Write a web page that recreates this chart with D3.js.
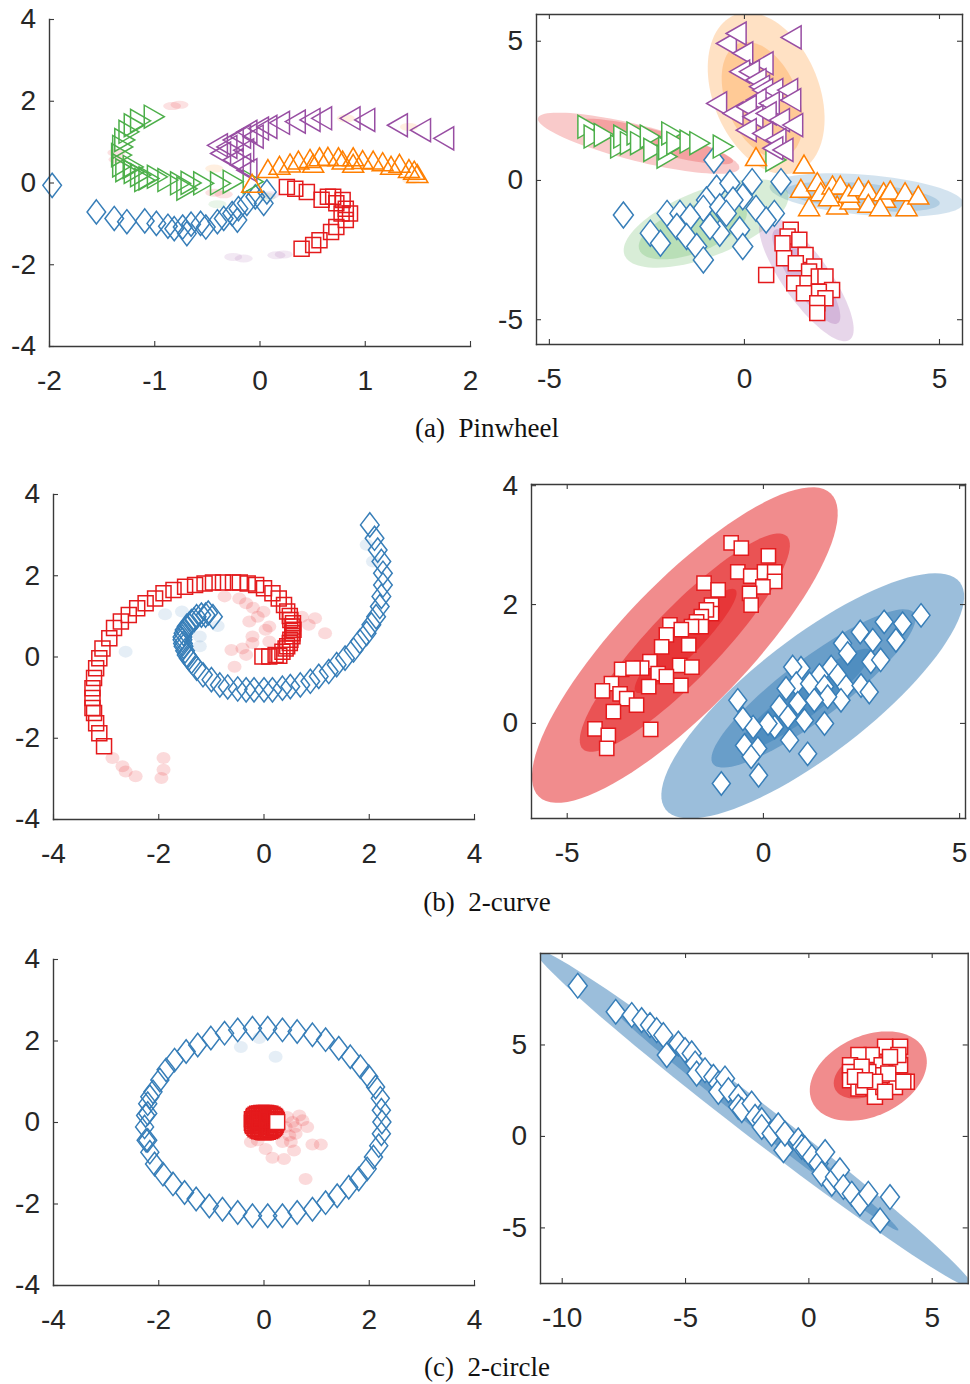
<!DOCTYPE html>
<html>
<head>
<meta charset="utf-8">
<script src="https://cdn.jsdelivr.net/npm/d3@7"></script>
<style>
  html, body { margin: 0; padding: 0; background: #fff; }
  svg { display: block; }
</style>
</head>
<body>
<script>
// ---------------- data ----------------
// (a) Pinwheel, input space
const aLeftBlue   = [[-1.97,-0.07],[-1.55,-0.72],[-1.38,-0.88],[-1.26,-0.96],[-1.09,-0.94],[-0.98,-1.0],[-0.87,-1.07],[-0.81,-1.13],[-0.73,-1.09],[-0.69,-1.25],[-0.65,-1.02],[-0.56,-1.0],[-0.51,-1.09],[-0.40,-0.96],[-0.34,-0.88],[-0.26,-0.76],[-0.21,-0.92],[-0.2,-0.64],[-0.12,-0.51],[-0.04,-0.35],[0.04,-0.51],[0.07,-0.23]];
const aLeftGreen  = [[-1.0,1.61],[-1.13,1.51],[-1.19,1.40],[-1.24,1.24],[-1.28,1.04],[-1.30,0.87],[-1.31,0.67],[-1.30,0.42],[-1.27,0.30],[-1.20,0.38],[-1.19,0.26],[-1.13,0.18],[-1.09,0.06],[-1.05,0.10],[-0.97,0.14],[-0.87,0.06],[-0.75,-0.02],[-0.69,-0.15],[-0.65,-0.01],[-0.53,-0.02],[-0.37,-0.02],[-0.25,0.02],[-0.06,0.02]];
const aLeftPurple = [[1.75,1.08],[1.53,1.28],[1.31,1.40],[1.0,1.53],[0.86,1.57],[0.59,1.57],[0.48,1.53],[0.34,1.49],[0.19,1.46],[0.07,1.36],[-0.01,1.32],[-0.06,1.12],[-0.12,1.24],[-0.18,1.12],[-0.25,1.04],[-0.31,0.87],[-0.40,0.91],[-0.15,0.79],[-0.37,0.71],[-0.25,0.55],[-0.18,0.42],[-0.12,0.30]];
const aLeftOrange = [[-0.07,-0.02],[0.08,0.34],[0.19,0.42],[0.29,0.48],[0.37,0.55],[0.48,0.59],[0.51,0.47],[0.57,0.63],[0.65,0.64],[0.75,0.63],[0.79,0.55],[0.89,0.63],[0.89,0.47],[0.98,0.56],[1.08,0.55],[1.17,0.51],[1.25,0.42],[1.33,0.47],[1.42,0.34],[1.47,0.30],[1.50,0.22]];
const aLeftRed    = [[0.26,-0.11],[0.34,-0.15],[0.45,-0.23],[0.59,-0.42],[0.65,-0.35],[0.70,-0.35],[0.73,-0.51],[0.79,-0.43],[0.82,-0.64],[0.78,-0.76],[0.86,-0.76],[0.82,-0.92],[0.73,-1.09],[0.68,-1.21],[0.57,-1.41],[0.51,-1.53],[0.40,-1.62]];
const aLeftFaintRed    = [[-0.83,1.87],[-0.76,1.90],[-1.36,0.73],[-1.35,0.56],[-0.43,-0.25],[-0.34,-0.29]];
const aLeftFaintOrange = [[0.82,1.57],[1.42,1.36],[-0.43,0.34],[1.44,0.06]];
const aLeftFaintPurple = [[-0.25,-1.82],[-0.15,-1.86],[0.16,-1.78],[0.23,-1.76],[0.10,-0.31]];
const aLeftFaintGreen  = [[-0.40,-0.53],[0.07,-0.35]];

// (a) Pinwheel, latent space
const aRightPurple = [[1.21,5.12],[-0.45,4.9],[-0.2,5.26],[-0.03,4.55],[0.49,4.19],[-0.11,3.89],[0.14,3.89],[0.31,3.59],[0.4,3.35],[0.48,3.23],[0.74,3.23],[1.12,3.23],[1.2,2.87],[-0.7,2.75],[0.31,2.87],[0.65,2.75],[-0.28,2.39],[0.06,2.63],[0.23,2.27],[0.57,2.39],[0.91,2.15],[1.25,1.97],[0.06,1.79],[0.48,1.67],[0.82,1.44],[0.74,1.14],[1.0,1.08]];
const aRightGreen  = [[-4.0,1.91],[-3.84,1.56],[-3.58,1.61],[-3.16,1.2],[-3.08,1.56],[-2.91,1.32],[-2.74,1.67],[-2.65,1.32],[-2.4,1.56],[-2.31,1.08],[-1.97,0.84],[-1.93,1.14],[-1.85,1.67],[-1.72,1.32],[-1.38,1.38],[-1.13,1.32],[-0.53,1.2],[0.82,0.72]];
const aRightOrange = [[0.31,0.84],[1.54,0.57],[1.46,-0.3],[1.88,-0.06],[1.97,-0.42],[2.27,-0.18],[2.47,-0.18],[2.39,-0.9],[2.18,-0.6],[2.73,-0.72],[2.69,-0.48],[2.94,-0.24],[3.19,-0.36],[3.19,-0.84],[3.58,-0.42],[3.62,-0.66],[3.49,-0.96],[3.75,-0.36],[4.17,-0.96],[4.13,-0.42],[4.47,-0.54],[1.67,-0.96]];
const aRightBlue   = [[-3.09,-1.26],[-0.77,0.72],[0.21,-0.06],[0.95,-0.06],[-0.7,-0.3],[-0.36,-0.12],[-0.03,-0.6],[-0.28,-0.72],[-0.96,-0.72],[-1.04,-1.02],[-0.62,-0.96],[-0.45,-1.2],[0.31,-1.02],[0.78,-1.2],[0.57,-1.44],[-1.97,-1.2],[-1.64,-1.2],[-1.38,-1.32],[-1.72,-1.67],[-2.4,-1.91],[-2.14,-2.27],[-1.47,-2.03],[-1.21,-2.39],[-1.04,-2.87],[-0.62,-1.91],[-0.87,-1.67],[-0.11,-1.79],[-0.03,-2.39]];
const aRightRed    = [[0.57,-3.41],[1.2,-1.79],[1.12,-2.03],[0.99,-2.27],[1.42,-2.15],[1.03,-2.81],[1.58,-2.69],[1.33,-2.99],[1.8,-3.11],[1.29,-3.71],[1.67,-3.29],[1.63,-3.71],[1.92,-3.47],[2.09,-3.47],[2.26,-3.95],[1.92,-4.01],[1.54,-4.07],[2.09,-4.25],[1.88,-4.43],[1.88,-4.78]];
// mixture components: [cx, cy, ux, uy, vx, vy] (centre and two conjugate semi-axes)
const aRightRedComp    = [[-2.70,1.32,2.58,-0.90,-0.11,-0.63],[-2.25,1.38,1.97,-0.72,-0.07,-0.39]];
const aRightOrangeComp = [[0.57,3.11,0.81,-2.81,1.26,0.72],[0.47,2.87,0.6,-2.03,0.85,0.48]];
const aRightBlueComp   = [[3.14,-0.54,2.48,-0.30,-0.04,-0.72],[3.05,-0.6,1.97,-0.24,-0.03,-0.48]];
const aRightGreenComp  = [[-0.97,-1.56,2.09,1.14,0.31,-1.11],[-1.31,-1.79,1.37,0.72,0.21,-0.78]];
const aRightPurpleComp = [[1.6,-3.53,1.11,-2.21,0.49,0.48],[1.6,-3.47,0.81,-1.67,0.32,0.32]];

// (b) 2-curve, input space
const bLeftRed  = [[-0.02,0],[0.11,0],[0.23,0.04],[0.3,0.02],[0.36,0.12],[0.42,0.2],[0.45,0.25],[0.5,0.33],[0.51,0.41],[0.55,0.5],[0.55,0.57],[0.57,0.66],[0.55,0.74],[0.56,0.82],[0.51,0.9],[0.5,1.0],[0.45,1.11],[0.39,1.27],[0.29,1.43],[0.17,1.56],[0.01,1.68],[-0.14,1.76],[-0.3,1.8],[-0.45,1.82],[-0.58,1.82],[-0.77,1.82],[-0.96,1.82],[-1.12,1.8],[-1.3,1.76],[-1.49,1.72],[-1.71,1.64],[-1.9,1.56],[-2.06,1.43],[-2.24,1.31],[-2.4,1.19],[-2.56,1.02],[-2.71,0.86],[-2.84,0.7],[-2.93,0.45],[-3.06,0.2],[-3.12,-0.04],[-3.18,-0.29],[-3.22,-0.53],[-3.25,-0.78],[-3.25,-1.02],[-3.25,-1.27],[-3.22,-1.39],[-3.18,-1.64],[-3.12,-1.89],[-3.03,-2.21]];
const bLeftBlue = [[-0.96,0.98],[-1.05,1.07],[-1.1,1.02],[-1.18,1.02],[-1.27,0.98],[-1.32,0.9],[-1.37,0.86],[-1.42,0.78],[-1.46,0.74],[-1.5,0.65],[-1.52,0.57],[-1.54,0.48],[-1.54,0.41],[-1.53,0.32],[-1.52,0.25],[-1.49,0.14],[-1.46,0.04],[-1.42,-0.04],[-1.37,-0.12],[-1.27,-0.29],[-1.15,-0.45],[-0.99,-0.57],[-0.83,-0.7],[-0.68,-0.75],[-0.49,-0.8],[-0.33,-0.82],[-0.18,-0.82],[0.01,-0.82],[0.17,-0.82],[0.36,-0.78],[0.51,-0.74],[0.7,-0.7],[0.89,-0.61],[1.05,-0.49],[1.24,-0.37],[1.39,-0.2],[1.55,-0.04],[1.71,0.16],[1.83,0.37],[1.96,0.57],[2.05,0.78],[2.14,0.98],[2.21,1.23],[2.24,1.48],[2.27,1.76],[2.27,2.05],[2.24,2.34],[2.17,2.62],[2.11,2.91],[2.02,3.24]];
const bLeftFaintRed  = [[-1.9,-2.5],[-1.9,-2.79],[-1.94,-2.99],[-2.68,-2.7],[-2.62,-2.83],[-2.43,-2.95],[-2.87,-2.5],[-0.74,1.48],[-0.46,1.43],[-0.33,1.31],[-0.27,0.86],[-0.11,0.98],[0.11,0.74],[0.04,0.66],[-0.21,0.49],[-0.21,0.33],[0.11,0.37],[-0.61,0.16],[-0.33,0.04],[-0.55,-0.25],[0.86,0.78],[0.98,0.94],[1.17,0.57],[0.73,0.98],[-0.2,1.2],[0.0,1.1],[-0.4,0.2]];
const bLeftFaintBlue = [[-1.87,1.04],[-1.55,1.11],[-2.62,0.12],[-1.21,0.49],[-1.21,0.25],[-0.87,0.75],[1.96,2.75],[2.08,2.34]];

// (b) 2-curve, latent space
const bRightRed  = [[-0.81,3.03],[-0.55,2.94],[0.14,2.81],[-0.64,2.54],[-0.31,2.47],[0.04,2.54],[0.3,2.54],[0.3,2.38],[0,2.29],[-0.34,2.18],[-0.3,1.98],[-1.5,2.35],[-1.14,2.24],[-1.31,1.98],[-1.31,1.84],[-1.44,1.9],[-1.57,1.79],[-1.69,1.7],[-1.57,1.62],[-1.82,1.62],[-2.37,1.65],[-2.08,1.57],[-2.46,1.48],[-2.58,1.28],[-1.89,1.31],[-2.88,1.03],[-3.09,0.92],[-3.6,0.9],[-3.31,0.92],[-2.67,0.83],[-2.12,0.97],[-1.81,0.94],[-2.46,0.78],[-2.91,0.61],[-2.09,0.63],[-3.86,0.66],[-4.09,0.54],[-3.64,0.49],[-3.47,0.41],[-3.22,0.30],[-3.81,0.19],[-4.28,-0.1],[-3.94,-0.21],[-3.98,-0.43],[-2.86,-0.11]];
const bRightBlue = [[4.03,1.81],[3.56,1.67],[3.09,1.7],[2.48,1.53],[2.8,1.39],[3.39,1.39],[2.03,1.34],[2.16,1.17],[2.75,1.03],[3.0,1.06],[1.74,0.94],[1.91,0.8],[1.44,0.8],[0.97,0.92],[0.76,0.94],[0.85,0.66],[1.19,0.66],[1.57,0.61],[2.12,0.61],[2.5,0.63],[2.71,0.52],[1.99,0.38],[1.65,0.44],[1.31,0.38],[0.89,0.33],[0.59,0.58],[0.42,0.27],[0.64,0.1],[0.3,-0.07],[0.68,-0.29],[1.57,-0.01],[1.14,-0.52],[0.13,-0.01],[-0.25,-0.07],[-0.51,0.07],[-0.64,0.38],[-0.47,-0.38],[-0.13,-0.43],[-0.3,-0.57],[-0.11,-0.88],[-1.06,-1.02],[1.06,0.04]];
const bRightRedComp  = [[-1.99,1.31,3.72,2.55,1.16,-0.74],[-1.99,1.35,2.6,1.79,0.64,-0.41],[-1.97,1.38,1.27,0.86,0.27,-0.17]];
const bRightBlueComp = [[1.27,0.455,3.75,1.91,0.91,-0.78],[1.29,0.58,2.56,1.27,0.46,-0.4],[1.06,0.38,1.69,0.84,0.25,-0.22]];

// (c) 2-circle, input space
const cLeftBlue = [[-0.21,2.30],[0.08,2.30],[0.36,2.26],[0.64,2.22],[0.93,2.14],[1.18,2.02],[1.43,1.81],[1.65,1.60],[1.84,1.36],[2.00,1.11],[2.13,0.86],[2.22,0.58],[2.24,0.29],[2.25,0.00],[2.24,-0.29],[2.19,-0.58],[2.09,-0.86],[1.97,-1.15],[1.81,-1.40],[1.62,-1.60],[1.40,-1.81],[1.18,-1.98],[0.93,-2.14],[0.64,-2.22],[0.36,-2.30],[0.08,-2.30],[-0.21,-2.30],[-0.49,-2.22],[-0.78,-2.14],[-1.03,-2.06],[-1.28,-1.89],[-1.50,-1.73],[-1.72,-1.52],[-1.91,-1.28],[-2.07,-1.03],[-2.16,-0.74],[-2.20,-0.45],[-2.23,-0.45],[-2.26,-0.12],[-2.24,0.16],[-2.20,0.21],[-2.20,0.45],[-2.16,0.62],[-2.10,0.74],[-1.97,1.03],[-1.85,1.28],[-1.69,1.52],[-1.47,1.73],[-1.25,1.89],[-1.00,2.06],[-0.74,2.18],[-0.49,2.26]];
const cLeftRed = [[0.25,0.0],[0.24,0.08],[0.2,0.15],[0.13,0.2],[0.05,0.22],[-0.04,0.22],[-0.12,0.2],[-0.18,0.15],[-0.22,0.07],[-0.22,-0.02],[-0.2,-0.1],[-0.15,-0.18],[-0.08,-0.23],[0.0,-0.25],[0.08,-0.24],[0.15,-0.2],[0.2,-0.14],[0.23,-0.07],[0.15,0.05],[0.1,-0.05],[0.0,0.1],[-0.1,0.0],[0.05,-0.12],[-0.05,-0.1],[0.12,0.12],[-0.1,0.1],[-0.16,0.04],[-0.13,-0.06],[0.18,0.0],[0.02,0.0],[-0.02,0.16],[0.08,0.15],[-0.06,-0.18],[0.1,-0.18],[-0.19,0.11],[-0.21,-0.06],[-0.17,-0.14],[-0.11,-0.21],[-0.03,-0.24],[0.04,-0.25],[0.12,-0.22],[0.18,-0.17],[0.22,-0.11],[0.24,-0.03],[0.25,0.04],[0.22,0.12],[0.17,0.18],[0.09,0.21],[0.01,0.22],[-0.08,0.21],[-0.15,0.18],[-0.21,0.03],[-0.07,0.05],[0.07,0.06]];
const cLeftRedLast   = [[0.26,0.0]];
const cLeftFaintRed  = [[0.68,0.16],[0.74,0.04],[0.83,-0.12],[0.55,0.0],[0.49,-0.33],[0.61,-0.29],[0.52,-0.49],[0.58,-0.70],[0.39,-0.91],[0.17,-0.88],[0.04,-0.66],[0.93,-0.55],[1.09,-0.55],[0.80,-1.40],[-0.24,-0.49],[-0.11,-0.45],[0.36,-0.49],[0.42,-0.12],[0.45,0.12],[0.6,-0.12]];
const cLeftFaintBlue = [[-0.43,1.84],[0.23,1.6],[-0.08,2.06]];

// (c) 2-circle, latent space
const cRightBlue = [[-9.35,8.21],[-7.81,6.79],[-7.16,6.61],[-6.76,6.33],[-6.42,6.06],[-6.15,5.78],[-5.88,5.51],[-5.74,4.42],[-5.27,5.05],[-5.0,4.69],[-4.73,4.51],[-4.59,3.96],[-4.53,3.41],[-4.19,3.59],[-3.85,3.23],[-3.65,2.86],[-3.65,2.41],[-3.38,3.14],[-3.24,2.5],[-2.84,2.14],[-2.84,1.59],[-2.7,1.41],[-2.3,1.77],[-2.16,1.04],[-1.89,0.86],[-1.89,0.49],[-1.49,0.13],[-1.22,0.58],[-1.01,-0.78],[-0.95,0.13],[-0.41,-0.24],[-0.27,-0.6],[-0.14,-0.69],[0.14,-1.15],[0.41,-1.51],[0.68,-0.88],[0.54,-2.06],[0.95,-2.61],[1.08,-2.24],[1.28,-1.88],[1.42,-2.79],[1.76,-3.16],[2.09,-3.7],[2.43,-3.16],[2.91,-4.62],[3.31,-3.34]];
const cRightRed  = [[3.72,4.87],[3.11,4.87],[2.57,4.42],[2.03,4.42],[1.69,3.87],[1.69,3.5],[1.69,3.05],[2.03,2.59],[2.23,2.68],[2.7,2.14],[3.04,2.68],[3.51,2.68],[3.99,2.96],[3.72,3.87],[3.65,4.42],[2.97,3.87],[2.97,3.32],[2.43,3.5],[3.24,3.41],[2.7,2.96],[2.16,3.78],[1.89,3.23],[3.31,4.32],[3.85,2.96],[2.3,3.05],[3.11,2.41]];
const cRightBlueComp = [[-2.22,0.97,8.88,-9.23,-0.43,-0.75],[-2.16,0.95,5.81,-6.11,-0.2,-0.36]];
const cRightRedComp  = [[2.43,3.27,2.27,1.42,0.69,-1.99],[2.43,3.41,1.35,0.84,0.37,-1.08]];

// tick values and captions
const ticksA_L = { x: [-2,-1,0,1,2], y: [-4,-2,0,2,4] };
const ticksA_R = { x: [-5,0,5], y: [-5,0,5] };
const ticksB_L = { x: [-4,-2,0,2,4], y: [-4,-2,0,2,4] };
const ticksB_R = { x: [-5,0,5], y: [0,2,4] };
const ticksC_L = { x: [-4,-2,0,2,4], y: [-4,-2,0,2,4] };
const ticksC_R = { x: [-10,-5,0,5], y: [-5,0,5] };
const captions = ["(a)\u2002Pinwheel", "(b)\u20022-curve", "(c)\u20022-circle"];

// ---------------- drawing ----------------
const C = { red: "#e41a1c", blue: "#377eb8", green: "#4daf4a", purple: "#984ea3", orange: "#ff7f00" };
const AXIS = "#3a3a3a", LABEL = "#262626";

const svg = d3.select("body").append("svg")
  .attr("width", 970).attr("height", 1384)
  .style("font-family", "'Liberation Sans', Arial, Helvetica, sans-serif");

let clipId = 0;
function makePanel(o) {
  const x = d3.scaleLinear().domain(o.xd).range([o.x0, o.x1]);
  const y = d3.scaleLinear().domain(o.yd).range([o.y1, o.y0]);
  const id = "clip" + (clipId++);
  svg.append("clipPath").attr("id", id).append("rect")
    .attr("x", o.x0).attr("y", o.y0).attr("width", o.x1 - o.x0).attr("height", o.y1 - o.y0);
  const g = svg.append("g");
  const fills = g.append("g").attr("clip-path", `url(#${id})`);
  const marks = g.append("g");
  return { ...o, x, y, g, fills, marks };
}

function styleAxis(sel) {
  sel.select(".domain").attr("stroke", AXIS).attr("stroke-width", 1.4);
  sel.selectAll(".tick line").attr("stroke", AXIS).attr("stroke-width", 1.1);
  sel.selectAll(".tick text").attr("fill", LABEL).style("font-size", "28px")
    .style("font-family", "'Liberation Sans', Arial, Helvetica, sans-serif");
}

function drawAxes(p, ticks) {
  const fmt = d => String(d);
  const bottom = d3.axisBottom(p.x).tickValues(ticks.x).tickSizeInner(-5).tickSizeOuter(0).tickPadding(24).tickFormat(fmt);
  const left = d3.axisLeft(p.y).tickValues(ticks.y).tickSizeInner(-5).tickSizeOuter(0).tickPadding(13).tickFormat(fmt);
  p.g.append("g").attr("transform", `translate(0,${p.y1})`).call(bottom).call(styleAxis);
  p.g.append("g").attr("transform", `translate(${p.x0},0)`).call(left).call(styleAxis);
  if (p.box) {
    const top = d3.axisTop(p.x).tickValues(ticks.x).tickSizeInner(-5).tickSizeOuter(0).tickFormat("");
    const right = d3.axisRight(p.y).tickValues(ticks.y).tickSizeInner(-5).tickSizeOuter(0).tickFormat("");
    p.g.append("g").attr("transform", `translate(0,${p.y0})`).call(top).call(styleAxis);
    p.g.append("g").attr("transform", `translate(${p.x1},0)`).call(right).call(styleAxis);
  }
  p.g.selectAll(".domain").attr("stroke-linecap", "square");
}

const shapes = {
  diamond: (x, y, s) => `M${x},${y - 13 * s}L${x + 10 * s},${y}L${x},${y + 13 * s}L${x - 10 * s},${y}Z`,
  square:  (x, y, s) => `M${x - 7.5 * s},${y - 7.5 * s}h${15 * s}v${15 * s}h${-15 * s}Z`,
  up:      (x, y, s) => `M${x},${y - 9 * s}L${x + 10.5 * s},${y + 9 * s}L${x - 10.5 * s},${y + 9 * s}Z`,
  right:   (x, y, s) => `M${x + 10 * s},${y}L${x - 10 * s},${y - 11.5 * s}L${x - 10 * s},${y + 11.5 * s}Z`,
  left:    (x, y, s) => `M${x - 10 * s},${y}L${x + 10 * s},${y - 11.5 * s}L${x + 10 * s},${y + 11.5 * s}Z`
};

function markers(p, data, kind, color, fill, s = 1) {
  p.marks.append("g").selectAll("path").data(data).join("path")
    .attr("d", d => shapes[kind](p.x(d[0]), p.y(d[1]), s))
    .attr("fill", fill).attr("stroke", color).attr("stroke-width", 1.5)
    .attr("stroke-linejoin", "miter");
}

function faint(p, data, color, rx, ry, op) {
  p.fills.append("g").selectAll("ellipse").data(data).join("ellipse")
    .attr("cx", d => p.x(d[0])).attr("cy", d => p.y(d[1]))
    .attr("rx", rx).attr("ry", ry)
    .attr("fill", color).attr("fill-opacity", op);
}

const angles = d3.range(0, 96).map(i => i / 96 * 2 * Math.PI);
const closedLine = d3.line().curve(d3.curveLinearClosed);
function components(p, comps, color, op) {
  p.fills.append("g").selectAll("path").data(comps).join("path")
    .attr("d", c => closedLine(angles.map(t => [
      p.x(c[0] + c[2] * Math.cos(t) + c[4] * Math.sin(t)),
      p.y(c[1] + c[3] * Math.cos(t) + c[5] * Math.sin(t))
    ])))
    .attr("fill", color).attr("fill-opacity", op);
}

// ----- (a) Pinwheel -----
const aL = makePanel({ x0: 49, x1: 470, y0: 19, y1: 346, xd: [-2, 2], yd: [-4, 4], box: false });
faint(aL, aLeftFaintRed, C.red, 9, 4, 0.13);
faint(aL, aLeftFaintOrange, C.orange, 9, 4, 0.12);
faint(aL, aLeftFaintPurple, C.purple, 9, 4, 0.13);
faint(aL, aLeftFaintGreen, C.green, 9, 4, 0.12);
markers(aL, aLeftBlue, "diamond", C.blue, "none", 0.93);
markers(aL, aLeftRed, "square", C.red, "none");
markers(aL, aLeftGreen, "right", C.green, "none");
markers(aL, aLeftPurple, "left", C.purple, "none");
markers(aL, aLeftOrange, "up", C.orange, "none");
drawAxes(aL, ticksA_L);

const aR = makePanel({ x0: 536, x1: 962, y0: 14, y1: 344, xd: [-5.33, 5.59], yd: [-5.89, 5.96], box: true });
components(aR, aRightRedComp, C.red, 0.23);
components(aR, aRightOrangeComp, C.orange, 0.23);
components(aR, aRightBlueComp, C.blue, 0.22);
components(aR, aRightGreenComp, C.green, 0.22);
components(aR, aRightPurpleComp, C.purple, 0.23);
markers(aR, aRightBlue, "diamond", C.blue, "#fff");
markers(aR, aRightRed, "square", C.red, "#fff");
markers(aR, aRightGreen, "right", C.green, "#fff");
markers(aR, aRightPurple, "left", C.purple, "#fff");
markers(aR, aRightOrange, "up", C.orange, "#fff");
drawAxes(aR, ticksA_R);

// ----- (b) 2-curve -----
const bL = makePanel({ x0: 53, x1: 474, y0: 494, y1: 819, xd: [-4, 4], yd: [-4, 4], box: false });
faint(bL, bLeftFaintRed, C.red, 7, 6, 0.16);
faint(bL, bLeftFaintBlue, C.blue, 7, 6, 0.13);
markers(bL, bLeftRed, "square", C.red, "none");
markers(bL, bLeftBlue, "diamond", C.blue, "none", 0.93);
drawAxes(bL, ticksB_L);

const bR = makePanel({ x0: 531, x1: 965, y0: 484, y1: 818, xd: [-5.91, 5.15], yd: [-1.6, 4.02], box: true });
components(bR, bRightRedComp, C.red, 0.5);
components(bR, bRightBlueComp, C.blue, 0.5);
markers(bR, bRightRed, "square", C.red, "#fff", 0.95);
markers(bR, bRightBlue, "diamond", C.blue, "#fff", 0.9);
drawAxes(bR, ticksB_R);

// ----- (c) 2-circle -----
const cL = makePanel({ x0: 53, x1: 474, y0: 959, y1: 1285, xd: [-4, 4], yd: [-4, 4], box: false });
faint(cL, cLeftFaintRed, C.red, 7, 6, 0.16);
faint(cL, cLeftFaintBlue, C.blue, 7, 6, 0.13);
markers(cL, cLeftBlue, "diamond", C.blue, "none", 0.9);
markers(cL, cLeftRed, "square", C.red, "none");
markers(cL, cLeftRedLast, "square", C.red, "#fff");
drawAxes(cL, ticksC_L);

const cR = makePanel({ x0: 540, x1: 967.7, y0: 953, y1: 1283, xd: [-10.88, 6.46], yd: [-8.04, 10.0], box: true });
components(cR, cRightBlueComp, C.blue, 0.5);
components(cR, cRightRedComp, C.red, 0.5);
markers(cR, cRightBlue, "diamond", C.blue, "#fff", 0.95);
markers(cR, cRightRed, "square", C.red, "#fff");
drawAxes(cR, ticksC_R);

// ----- captions -----
const capY = [437, 911, 1376];
svg.append("g").selectAll("text").data(captions).join("text")
  .attr("x", 487).attr("y", (d, i) => capY[i])
  .attr("text-anchor", "middle")
  .style("font-family", "'Liberation Serif', 'Times New Roman', serif")
  .style("font-size", "27px").attr("fill", "#111")
  .text(d => d);
</script>
</body>
</html>
